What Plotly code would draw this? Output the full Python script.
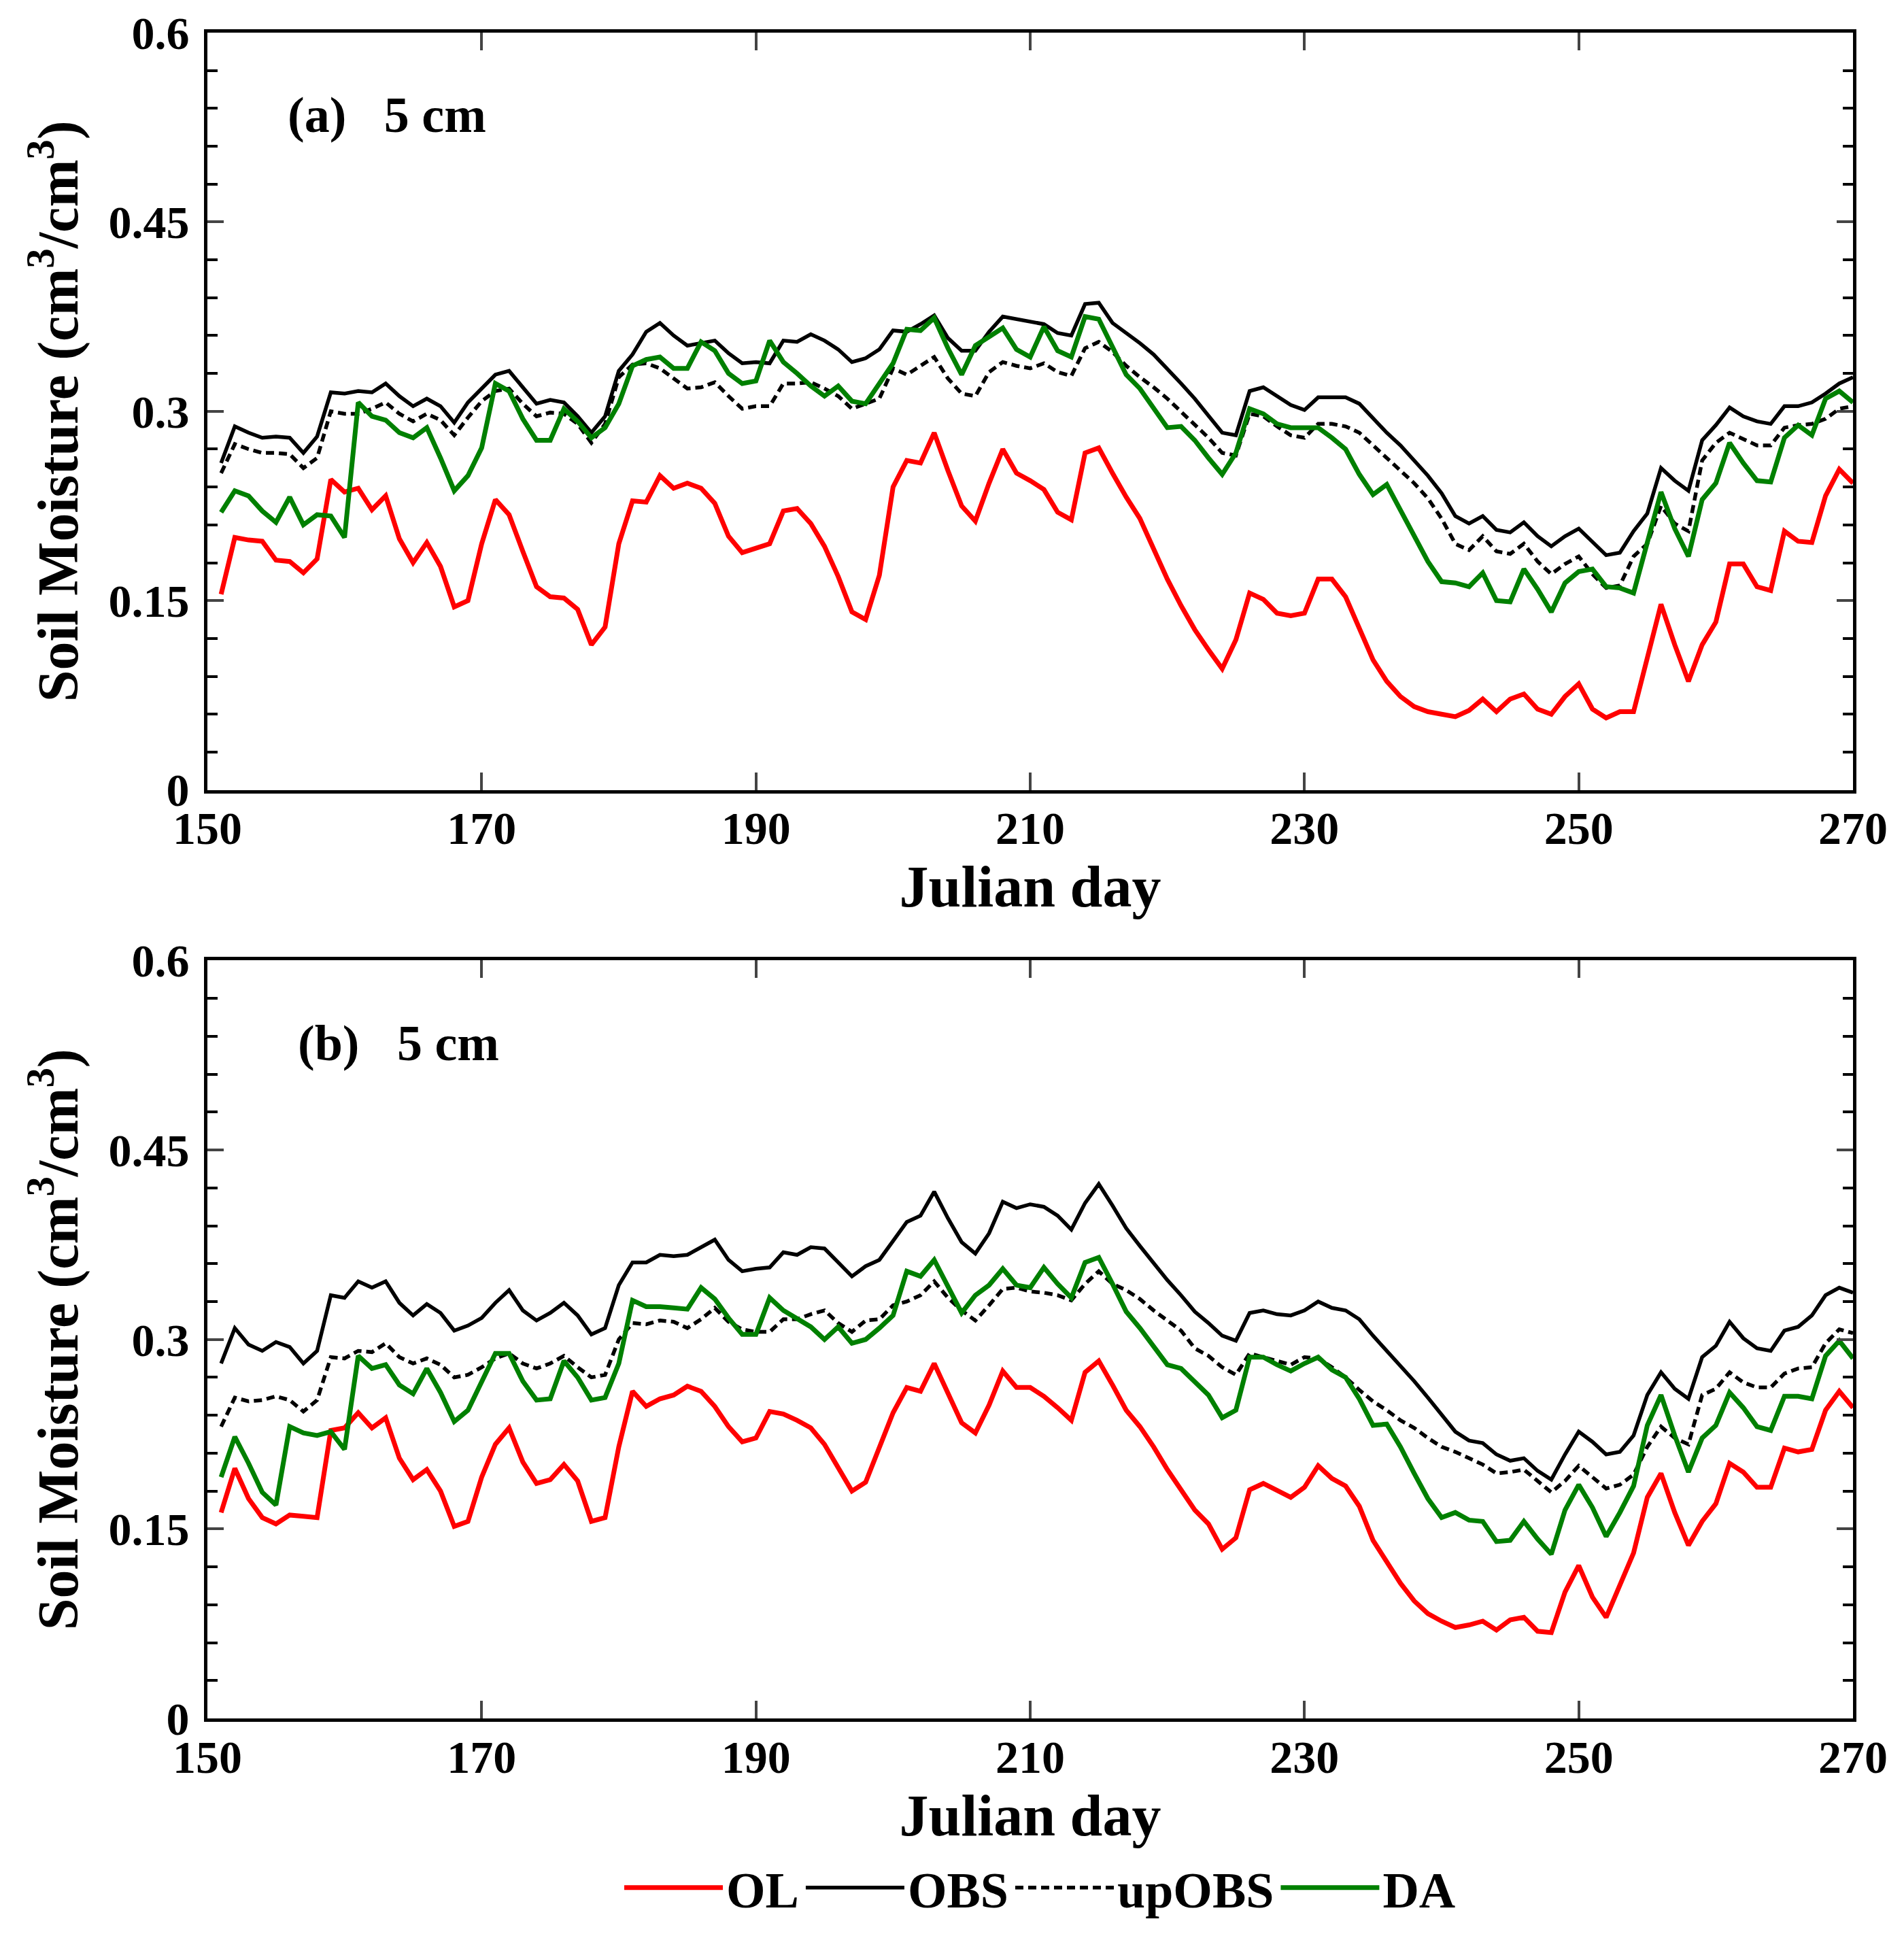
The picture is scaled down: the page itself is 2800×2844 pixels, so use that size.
import plotly.graph_objects as go
from plotly.subplots import make_subplots

# Julian days 151..270
days = list(range(151, 271))

# panel (a) 5 cm
a_ol = [0.155, 0.200, 0.198, 0.197, 0.182, 0.181, 0.172, 0.183, 0.246, 0.236,
        0.239, 0.222, 0.233, 0.199, 0.180, 0.196, 0.177, 0.145, 0.150, 0.195,
        0.230, 0.218, 0.189, 0.161, 0.153, 0.152, 0.143, 0.115, 0.129, 0.195,
        0.229, 0.228, 0.249, 0.239, 0.243, 0.239, 0.227, 0.201, 0.188, 0.192,
        0.195, 0.221, 0.223, 0.211, 0.193, 0.169, 0.141, 0.135, 0.170, 0.240,
        0.261, 0.259, 0.283, 0.253, 0.225, 0.213, 0.243, 0.270, 0.251, 0.245,
        0.238, 0.220, 0.214, 0.267, 0.271, 0.251, 0.232, 0.215, 0.191, 0.167,
        0.146, 0.127, 0.111, 0.096, 0.119, 0.156, 0.151, 0.140, 0.138, 0.140,
        0.167, 0.167, 0.153, 0.127, 0.103, 0.086, 0.074, 0.066, 0.062, 0.060,
        0.058, 0.063, 0.072, 0.062, 0.072, 0.076, 0.064, 0.060, 0.074, 0.084,
        0.064, 0.057, 0.062, 0.062, 0.103, 0.147, 0.115, 0.086, 0.115, 0.133,
        0.179, 0.179, 0.161, 0.158, 0.205, 0.197, 0.196, 0.233, 0.254, 0.243]
a_obs = [0.259, 0.288, 0.283, 0.279, 0.280, 0.279, 0.267, 0.280, 0.315, 0.314,
         0.316, 0.315, 0.322, 0.312, 0.304, 0.310, 0.304, 0.291, 0.307, 0.318,
         0.329, 0.332, 0.319, 0.306, 0.309, 0.307, 0.296, 0.283, 0.296, 0.332,
         0.345, 0.363, 0.370, 0.360, 0.352, 0.354, 0.356, 0.346, 0.338, 0.339,
         0.338, 0.356, 0.355, 0.361, 0.356, 0.349, 0.339, 0.342, 0.349, 0.364,
         0.363, 0.369, 0.376, 0.358, 0.348, 0.348, 0.363, 0.375, 0.373, 0.371,
         0.369, 0.362, 0.360, 0.385, 0.386, 0.370, 0.362, 0.354, 0.345, 0.334,
         0.322, 0.310, 0.296, 0.283, 0.281, 0.316, 0.319, 0.312, 0.305, 0.301,
         0.311, 0.311, 0.311, 0.306, 0.294, 0.283, 0.273, 0.261, 0.249, 0.235,
         0.217, 0.211, 0.217, 0.206, 0.204, 0.212, 0.201, 0.193, 0.201, 0.207,
         0.197, 0.186, 0.188, 0.205, 0.219, 0.255, 0.245, 0.237, 0.277, 0.289,
         0.303, 0.296, 0.292, 0.290, 0.304, 0.304, 0.307, 0.314, 0.322, 0.327]
a_upobs = [0.251, 0.274, 0.270, 0.267, 0.267, 0.266, 0.255, 0.263, 0.300, 0.298,
           0.298, 0.302, 0.307, 0.298, 0.292, 0.298, 0.293, 0.281, 0.295, 0.308,
           0.316, 0.318, 0.306, 0.296, 0.299, 0.298, 0.290, 0.275, 0.290, 0.327,
           0.337, 0.338, 0.334, 0.326, 0.318, 0.319, 0.323, 0.312, 0.302, 0.304,
           0.304, 0.322, 0.322, 0.323, 0.318, 0.312, 0.302, 0.306, 0.310, 0.334,
           0.329, 0.336, 0.343, 0.326, 0.314, 0.312, 0.331, 0.339, 0.336, 0.334,
           0.338, 0.331, 0.328, 0.350, 0.355, 0.347, 0.336, 0.327, 0.319, 0.310,
           0.300, 0.290, 0.279, 0.267, 0.265, 0.298, 0.296, 0.288, 0.281, 0.279,
           0.290, 0.290, 0.288, 0.283, 0.273, 0.263, 0.253, 0.243, 0.231, 0.215,
           0.195, 0.190, 0.201, 0.189, 0.187, 0.195, 0.181, 0.171, 0.179, 0.185,
           0.171, 0.160, 0.162, 0.185, 0.195, 0.225, 0.211, 0.205, 0.261, 0.275,
           0.283, 0.278, 0.273, 0.273, 0.287, 0.289, 0.290, 0.294, 0.302, 0.304]
a_da = [0.220, 0.237, 0.233, 0.221, 0.212, 0.232, 0.210, 0.218, 0.217, 0.200,
        0.307, 0.296, 0.293, 0.283, 0.279, 0.287, 0.263, 0.237, 0.249, 0.271,
        0.322, 0.316, 0.294, 0.277, 0.277, 0.302, 0.292, 0.279, 0.287, 0.306,
        0.336, 0.341, 0.343, 0.334, 0.334, 0.355, 0.348, 0.330, 0.322, 0.324,
        0.356, 0.339, 0.330, 0.320, 0.312, 0.320, 0.308, 0.306, 0.322, 0.338,
        0.365, 0.364, 0.374, 0.350, 0.329, 0.352, 0.359, 0.366, 0.349, 0.343,
        0.367, 0.348, 0.343, 0.375, 0.373, 0.350, 0.329, 0.318, 0.303, 0.287,
        0.288, 0.277, 0.263, 0.250, 0.267, 0.302, 0.298, 0.290, 0.287, 0.287,
        0.287, 0.279, 0.270, 0.250, 0.234, 0.242, 0.221, 0.201, 0.181, 0.165,
        0.164, 0.161, 0.172, 0.150, 0.149, 0.175, 0.159, 0.141, 0.164, 0.173,
        0.175, 0.161, 0.160, 0.156, 0.197, 0.236, 0.207, 0.185, 0.230, 0.243,
        0.275, 0.259, 0.245, 0.244, 0.279, 0.289, 0.281, 0.310, 0.316, 0.307]

# panel (b) 5 cm
b_ol = [0.163, 0.198, 0.174, 0.159, 0.154, 0.161, 0.160, 0.159, 0.228, 0.230,
        0.242, 0.230, 0.238, 0.206, 0.189, 0.197, 0.180, 0.152, 0.156, 0.191,
        0.217, 0.230, 0.203, 0.186, 0.189, 0.201, 0.188, 0.156, 0.159, 0.215,
        0.259, 0.247, 0.253, 0.256, 0.263, 0.259, 0.247, 0.231, 0.219, 0.222,
        0.243, 0.241, 0.236, 0.230, 0.217, 0.199, 0.180, 0.187, 0.215, 0.242,
        0.262, 0.259, 0.281, 0.258, 0.234, 0.226, 0.248, 0.275, 0.262, 0.262,
        0.255, 0.246, 0.236, 0.274, 0.283, 0.264, 0.244, 0.231, 0.215, 0.197,
        0.181, 0.165, 0.154, 0.134, 0.143, 0.181, 0.186, 0.180, 0.175, 0.183,
        0.200, 0.190, 0.184, 0.168, 0.141, 0.124, 0.107, 0.093, 0.083, 0.077,
        0.072, 0.074, 0.077, 0.070, 0.078, 0.080, 0.069, 0.068, 0.100, 0.121,
        0.096, 0.080, 0.106, 0.131, 0.175, 0.194, 0.163, 0.137, 0.156, 0.170,
        0.202, 0.195, 0.183, 0.183, 0.214, 0.211, 0.213, 0.244, 0.259, 0.246]
b_obs = [0.281, 0.309, 0.296, 0.291, 0.298, 0.294, 0.281, 0.291, 0.335, 0.333,
         0.346, 0.341, 0.346, 0.329, 0.319, 0.328, 0.321, 0.307, 0.311, 0.317,
         0.329, 0.339, 0.323, 0.315, 0.321, 0.329, 0.319, 0.304, 0.309, 0.343,
         0.361, 0.361, 0.367, 0.366, 0.367, 0.373, 0.379, 0.363, 0.354, 0.356,
         0.357, 0.369, 0.367, 0.373, 0.372, 0.361, 0.350, 0.358, 0.363, 0.378,
         0.393, 0.398, 0.417, 0.396, 0.377, 0.368, 0.384, 0.409, 0.404, 0.407,
         0.405, 0.398, 0.387, 0.408, 0.423, 0.406, 0.388, 0.374, 0.360, 0.347,
         0.335, 0.322, 0.313, 0.303, 0.299, 0.321, 0.323, 0.320, 0.319, 0.323,
         0.330, 0.325, 0.323, 0.316, 0.303, 0.291, 0.280, 0.267, 0.254, 0.240,
         0.227, 0.220, 0.218, 0.209, 0.204, 0.206, 0.196, 0.189, 0.209, 0.227,
         0.219, 0.209, 0.211, 0.224, 0.256, 0.274, 0.261, 0.253, 0.286, 0.295,
         0.314, 0.301, 0.293, 0.291, 0.307, 0.310, 0.319, 0.335, 0.341, 0.337]
b_upobs = [0.231, 0.254, 0.251, 0.252, 0.255, 0.252, 0.243, 0.252, 0.286, 0.285,
           0.291, 0.290, 0.297, 0.286, 0.281, 0.285, 0.280, 0.270, 0.272, 0.278,
           0.285, 0.289, 0.281, 0.277, 0.281, 0.287, 0.278, 0.270, 0.272, 0.300,
           0.313, 0.312, 0.315, 0.314, 0.309, 0.316, 0.325, 0.314, 0.308, 0.306,
           0.306, 0.316, 0.316, 0.320, 0.323, 0.313, 0.306, 0.315, 0.316, 0.327,
           0.330, 0.335, 0.346, 0.333, 0.323, 0.315, 0.327, 0.340, 0.341, 0.338,
           0.337, 0.335, 0.331, 0.344, 0.354, 0.344, 0.339, 0.332, 0.323, 0.315,
           0.307, 0.293, 0.287, 0.278, 0.272, 0.289, 0.286, 0.283, 0.280, 0.286,
           0.285, 0.278, 0.270, 0.260, 0.251, 0.244, 0.236, 0.230, 0.222, 0.215,
           0.211, 0.206, 0.201, 0.194, 0.195, 0.197, 0.188, 0.179, 0.188, 0.200,
           0.191, 0.182, 0.185, 0.193, 0.215, 0.231, 0.222, 0.217, 0.256, 0.261,
           0.274, 0.266, 0.262, 0.262, 0.273, 0.277, 0.278, 0.297, 0.308, 0.305]
b_da = [0.191, 0.223, 0.202, 0.179, 0.169, 0.231, 0.226, 0.224, 0.227, 0.213,
        0.287, 0.277, 0.280, 0.264, 0.257, 0.277, 0.258, 0.235, 0.244, 0.266,
        0.289, 0.289, 0.267, 0.252, 0.253, 0.283, 0.270, 0.252, 0.254, 0.281,
        0.331, 0.326, 0.326, 0.325, 0.324, 0.341, 0.332, 0.317, 0.304, 0.304,
        0.333, 0.323, 0.316, 0.310, 0.300, 0.310, 0.297, 0.300, 0.309, 0.319,
        0.354, 0.350, 0.363, 0.341, 0.321, 0.335, 0.343, 0.356, 0.343, 0.341,
        0.357, 0.344, 0.333, 0.361, 0.365, 0.344, 0.322, 0.309, 0.294, 0.280,
        0.277, 0.266, 0.256, 0.238, 0.244, 0.286, 0.286, 0.280, 0.275, 0.281,
        0.286, 0.276, 0.270, 0.253, 0.232, 0.233, 0.215, 0.194, 0.174, 0.159,
        0.163, 0.157, 0.156, 0.140, 0.141, 0.156, 0.142, 0.130, 0.165, 0.185,
        0.167, 0.144, 0.163, 0.184, 0.232, 0.256, 0.224, 0.195, 0.222, 0.232,
        0.258, 0.246, 0.231, 0.228, 0.255, 0.255, 0.253, 0.287, 0.299, 0.285]

x_ticks = [150, 170, 190, 210, 230, 250, 270]
y_ticks = [0, 0.15, 0.3, 0.45, 0.6]
y_tick_text = ["0", "0.15", "0.3", "0.45", "0.6"]
panel_labels = ["(a)\u00a0\u00a0\u00a05 cm", "(b)\u00a0\u00a0\u00a05 cm"]

FONT = "Liberation Serif"

fig = make_subplots(rows=2, cols=1)

panels = [(a_ol, a_obs, a_upobs, a_da), (b_ol, b_obs, b_upobs, b_da)]
for i, (ol, obs, upobs, da) in enumerate(panels):
    row = i + 1
    first = (i == 0)
    fig.add_trace(go.Scatter(x=days, y=ol, mode="lines", name="OL", legendgroup="OL",
                             showlegend=first, line=dict(color="#ff0000", width=7)), row=row, col=1)
    fig.add_trace(go.Scatter(x=days, y=obs, mode="lines", name="OBS", legendgroup="OBS",
                             showlegend=first, line=dict(color="black", width=5.5)), row=row, col=1)
    fig.add_trace(go.Scatter(x=days, y=upobs, mode="lines", name="upOBS", legendgroup="upOBS",
                             showlegend=first, line=dict(color="black", width=5.5, dash="12px,7px")),
                  row=row, col=1)
    fig.add_trace(go.Scatter(x=days, y=da, mode="lines", name="DA", legendgroup="DA",
                             showlegend=first, line=dict(color="#008000", width=7)), row=row, col=1)

xaxis_style = dict(
    range=[150, 270], tickvals=x_ticks, ticks="inside", ticklen=26, tickwidth=4,
    showline=True, linewidth=5, linecolor="black", mirror="ticks", automargin=False,
    showgrid=False, zeroline=False, ticklabelstandoff=-7, ticklabeloverflow="allow",
    tickfont=dict(family=FONT, size=68, color="black", weight="bold"),
    title=dict(text="Julian day", standoff=6,
               font=dict(family=FONT, size=86, color="black", weight="bold")),
)
yaxis_style = dict(
    range=[0, 0.6], tickvals=y_ticks, ticktext=y_tick_text, ticks="inside",
    ticklen=24, tickwidth=4, showline=True, linewidth=5, linecolor="black",
    mirror="ticks", showgrid=False, zeroline=False, ticklabelstandoff=8, automargin=False,
    ticklabeloverflow="allow",
    minor=dict(dtick=0.03, ticks="inside", ticklen=15, tickwidth=4, tickcolor="black", showgrid=False),
    tickfont=dict(family=FONT, size=68, color="black", weight="bold"),
    title=dict(text="Soil Moisture (cm<sup>3</sup>/cm<sup>3</sup>)", standoff=18,
               font=dict(family=FONT, size=84, color="black", weight="bold")),
)

fig.update_layout(
    xaxis=dict(domain=[0, 1], **xaxis_style),
    xaxis2=dict(domain=[0, 1], **xaxis_style),
    yaxis=dict(domain=[0.5508, 1], **yaxis_style),
    yaxis2=dict(domain=[0, 0.4496], **yaxis_style),
)

for i, label in enumerate(panel_labels):
    suffix = "" if i == 0 else "2"
    fig.add_annotation(text=label, xref="x" + suffix + " domain", yref="y" + suffix + " domain",
                       x=0.048 if i == 0 else 0.054, y=0.891, xanchor="left", yanchor="middle",
                       showarrow=False, font=dict(family=FONT, size=74, color="black", weight="bold"))

# margins tuned so the plot boxes sit where the reference has them
fig.update_layout(
    width=2800, height=2844,
    margin=dict(l=297, r=83, t=40, b=325),
    paper_bgcolor="white", plot_bgcolor="white",
    font=dict(family=FONT, color="black", weight="bold"),
    legend=dict(orientation="h", x=0.506, y=-0.1005, xanchor="center", yanchor="middle",
                font=dict(family=FONT, size=74, color="black", weight="bold"),
                itemwidth=145, bgcolor="rgba(0,0,0,0)"),
)

fig.write_html("out.html")
